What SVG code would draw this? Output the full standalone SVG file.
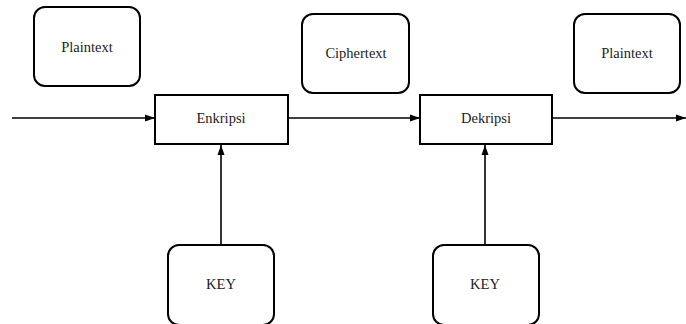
<svg xmlns="http://www.w3.org/2000/svg" width="686" height="324" viewBox="0 0 686 324">
<style>
.box{fill:#fff;stroke:#000;stroke-width:2}
.t{font-family:"Liberation Serif","Times New Roman",serif;font-size:14.5px;fill:#222;text-anchor:middle;dominant-baseline:central}
.c{stroke:#000;stroke-width:1.6;fill:none;marker-end:url(#ah)}
</style>
<defs>
<marker id="ah" markerWidth="10" markerHeight="8" refX="10" refY="4" orient="auto" markerUnits="userSpaceOnUse">
<path d="M0,0.5 L10,4 L0,7.5 z" fill="#000"/>
</marker>
</defs>
<rect width="686" height="324" fill="#fff"/>
<g id="connectors">
<line class="c" x1="12" y1="118" x2="155" y2="118"/>
<line class="c" x1="288" y1="118" x2="420" y2="118"/>
<line class="c" x1="552" y1="118" x2="686" y2="118"/>
<line class="c" x1="221" y1="245" x2="221" y2="145"/>
<line class="c" x1="485" y1="245" x2="485" y2="145"/>
</g>
<g id="plaintext1"><rect class="box" x="34" y="7" width="106" height="79" rx="11"/><text class="t" x="87" y="47">Plaintext</text></g>
<g id="enkripsi"><rect class="box" x="155" y="95" width="133" height="49"/><text class="t" x="221" y="118">Enkripsi</text></g>
<g id="ciphertext"><rect class="box" x="302" y="14" width="107" height="79" rx="11"/><text class="t" x="356" y="53">Ciphertext</text></g>
<g id="dekripsi"><rect class="box" x="420" y="95" width="132" height="49"/><text class="t" x="486" y="118">Dekripsi</text></g>
<g id="plaintext2"><rect class="box" x="574" y="14" width="106" height="79" rx="11"/><text class="t" x="627" y="53">Plaintext</text></g>
<g id="key1"><rect class="box" x="168" y="245" width="106" height="80" rx="11"/><text class="t" x="221" y="284">KEY</text></g>
<g id="key2"><rect class="box" x="433" y="245" width="106" height="80" rx="11"/><text class="t" x="485" y="284">KEY</text></g>
</svg>
